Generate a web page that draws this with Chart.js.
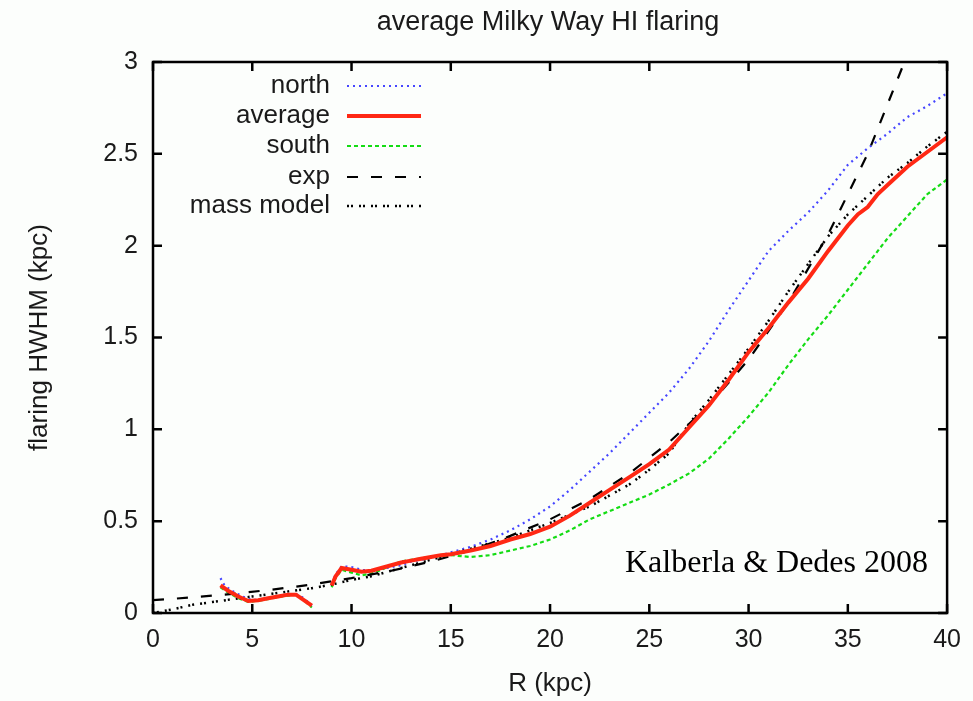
<!DOCTYPE html>
<html>
<head>
<meta charset="utf-8">
<script src="https://cdn.jsdelivr.net/npm/chart.js@4/dist/chart.umd.min.js"></script>
<style>
html,body{margin:0;padding:0;background:#fcfefc;}
#wrap{width:973px;height:701px;position:relative;}
</style>
</head>
<body>
<div id="wrap"><canvas id="c" width="973" height="701"></canvas></div>
<script>
// ---- data ----
const northR = [3.4,3.6,4.0,4.5,5.0,5.5,6.0,6.5,7.0,7.3,7.6,8.0,8.5,9.0,9.2,9.5,10,10.5,11,11.5,12,12.5,13,14,15,16,17,18,19,20,21,22,23,24,25,26,27,28,29,30,31,32,33,34,35,36,37,38,39,40];
const northH = [0.19,0.15,0.12,0.09,0.07,0.075,0.085,0.095,0.10,0.10,0.08,0.04,null,0.16,0.21,0.255,0.25,0.235,0.23,0.24,0.25,0.26,0.28,0.30,0.33,0.36,0.40,0.45,0.51,0.58,0.67,0.77,0.87,0.98,1.09,1.20,1.33,1.48,1.65,1.81,1.97,2.08,2.18,2.30,2.44,2.53,2.61,2.70,2.76,2.83];

const avgR = [3.4,3.8,4.3,4.8,5.3,5.8,6.3,6.8,7.2,7.6,8.0,8.5,9.0,9.2,9.5,10,10.5,11,11.5,12,12.5,13,13.5,14,14.5,15,16,17,18,19,20,21,22,23,24,25,26,27,28,29,30,31,32,33,34,35,35.5,36,36.5,37,38,39,40];
const avgH = [0.15,0.12,0.09,0.065,0.07,0.08,0.09,0.10,0.10,0.07,0.04,null,0.15,0.20,0.245,0.235,0.225,0.23,0.245,0.26,0.275,0.285,0.295,0.305,0.315,0.32,0.34,0.365,0.40,0.43,0.47,0.53,0.60,0.67,0.74,0.81,0.89,1.01,1.13,1.27,1.42,1.55,1.69,1.82,1.97,2.11,2.17,2.21,2.28,2.33,2.43,2.51,2.59];

const southR = [3.4,3.8,4.3,4.8,5.5,6.5,7.2,7.6,8.0,8.5,9.0,9.2,9.5,10,10.5,11,11.5,12,12.5,13,14,15,16,17,18,19,20,21,22,23,24,25,26,27,28,29,30,31,32,33,34,35,36,37,38,39,40];
const southH = [0.14,0.11,0.08,0.06,0.07,0.09,0.10,0.07,0.03,null,0.14,0.19,0.235,0.22,0.205,0.215,0.235,0.26,0.28,0.29,0.305,0.315,0.305,0.315,0.34,0.365,0.40,0.45,0.51,0.555,0.60,0.645,0.70,0.76,0.84,0.95,1.07,1.20,1.35,1.49,1.62,1.76,1.90,2.04,2.16,2.28,2.36];

const expR = [0,2,4,6,8,10,12,14,16,18,20,22,24,26,28,30,32,34,36,38];
const expH = [0.07,0.085,0.104,0.127,0.155,0.19,0.23,0.28,0.34,0.42,0.51,0.62,0.76,0.93,1.13,1.38,1.69,2.06,2.50,3.04];

const massR = [0,1,2,3,4,5,6,7,8,9,10,11,12,13,14,15,16,17,18,19,20,21,22,23,24,25,26,27,28,29,30,31,32,33,34,35,36,37,38,39,40];
const massH = [0.0,0.02,0.045,0.06,0.075,0.09,0.105,0.12,0.135,0.155,0.18,0.20,0.23,0.26,0.29,0.32,0.35,0.38,0.41,0.45,0.49,0.535,0.58,0.64,0.70,0.78,0.87,1.03,1.16,1.30,1.44,1.59,1.75,1.90,2.05,2.17,2.27,2.37,2.45,2.54,2.62];

const xTicks = [0,5,10,15,20,25,30,35,40];
const yTicks = [0,0.5,1,1.5,2,2.5,3];
const yTickLabels = ["0","0.5","1","1.5","2","2.5","3"];
const seriesNames = ["north","average","south","exp","mass model"];

const pts = (xs, ys) => xs.map((x,i)=>({x:x, y:ys[i]}));

const FONT = "'Liberation Sans', Arial, sans-serif";

const styles = [
  {color:'rgb(70,70,255)', width:2.2, dash:[2,4]},
  {color:'rgb(255,40,20)', width:4, dash:[]},
  {color:'rgb(20,220,20)', width:2.2, dash:[4,3]},
  {color:'rgb(0,0,0)', width:2.2, dash:[11,13]},
  {color:'rgb(0,0,0)', width:2.5, dash:[2,2,2,6]}
];
const dataSets = [pts(northR,northH), pts(avgR,avgH), pts(southR,southH), pts(expR,expH), pts(massR,massH)];

const datasets = dataSets.map((d,i)=>({
  label: seriesNames[i],
  data: d,
  borderColor: styles[i].color,
  borderWidth: styles[i].width,
  borderDash: styles[i].dash,
  pointRadius: 0,
  tension: 0,
  spanGaps: false,
  fill: false,
  order: i===1 ? 0 : (i>=3 ? 1 : 2)
}));

const framePlugin = {
  id:'frame',
  afterDraw(chart){
    const ctx = chart.ctx;
    const a = chart.chartArea;
    const xs = chart.scales.x, ys = chart.scales.y;
    ctx.save();
    ctx.strokeStyle = '#000';
    ctx.lineWidth = 2.5;
    ctx.setLineDash([]);
    ctx.strokeRect(a.left, a.top, a.right-a.left, a.bottom-a.top);
    const L = 9;
    xTicks.forEach(v=>{
      const px = xs.getPixelForValue(v);
      ctx.beginPath();
      ctx.moveTo(px, a.bottom); ctx.lineTo(px, a.bottom-L);
      ctx.moveTo(px, a.top); ctx.lineTo(px, a.top+L);
      ctx.stroke();
    });
    yTicks.forEach(v=>{
      const py = ys.getPixelForValue(v);
      ctx.beginPath();
      ctx.moveTo(a.left, py); ctx.lineTo(a.left+L, py);
      ctx.moveTo(a.right, py); ctx.lineTo(a.right-L, py);
      ctx.stroke();
    });
    // title
    ctx.fillStyle = '#1a1a1a';
    ctx.font = "27px " + FONT;
    ctx.textAlign = 'center';
    ctx.textBaseline = 'middle';
    ctx.fillText('average Milky Way HI flaring', 548, 23);
    // legend
    ctx.font = "26px " + FONT;
    ctx.textAlign = 'right';
    const rows = [86, 116, 146, 177, 206];
    seriesNames.forEach((n,i)=>{
      ctx.fillStyle = '#1a1a1a';
      ctx.fillText(n, 330, rows[i]);
      ctx.strokeStyle = styles[i].color;
      ctx.lineWidth = styles[i].width;
      ctx.setLineDash(styles[i].dash);
      ctx.beginPath();
      ctx.moveTo(347, rows[i]); ctx.lineTo(421, rows[i]);
      ctx.stroke();
    });
    ctx.setLineDash([]);
    // annotation
    ctx.fillStyle = '#000';
    ctx.font = "32px 'Liberation Serif', 'Times New Roman', serif";
    ctx.textAlign = 'left';
    ctx.textBaseline = 'alphabetic';
    ctx.fillText('Kalberla & Dedes 2008', 625, 572);
    ctx.restore();
  }
};

new Chart(document.getElementById('c'), {
  type:'line',
  data:{datasets},
  options:{
    responsive:false,
    animation:false,
    layout:{padding:{top:62, right:25, left:0, bottom:0}},
    plugins:{legend:{display:false}, tooltip:{enabled:false}, title:{display:false}},
    scales:{
      x:{
        type:'linear', min:0, max:40,
        afterFit(s){ s.height = 88; },
        afterBuildTicks(s){ s.ticks = xTicks.map(v=>({value:v})); },
        grid:{display:false, drawTicks:false},
        border:{display:false},
        ticks:{color:'#1a1a1a', font:{family:FONT, size:25}, padding:12, maxRotation:0,
               callback:(v)=>String(v)},
        title:{display:true, text:'R (kpc)', color:'#1a1a1a', font:{family:FONT, size:26}, padding:{top:0,bottom:2}}
      },
      y:{
        type:'linear', min:0, max:3,
        afterFit(s){ s.width = 153; },
        afterBuildTicks(s){ s.ticks = yTicks.map(v=>({value:v})); },
        grid:{display:false, drawTicks:false},
        border:{display:false},
        ticks:{color:'#1a1a1a', font:{family:FONT, size:25}, padding:15,
               callback:(v)=>yTickLabels[yTicks.indexOf(v)] ?? String(v)},
        title:{display:true, text:'flaring HWHM (kpc)', color:'#1a1a1a', font:{family:FONT, size:26}, padding:{top:24,bottom:0}}
      }
    }
  },
  plugins:[framePlugin]
});
</script>
</body>
</html>
